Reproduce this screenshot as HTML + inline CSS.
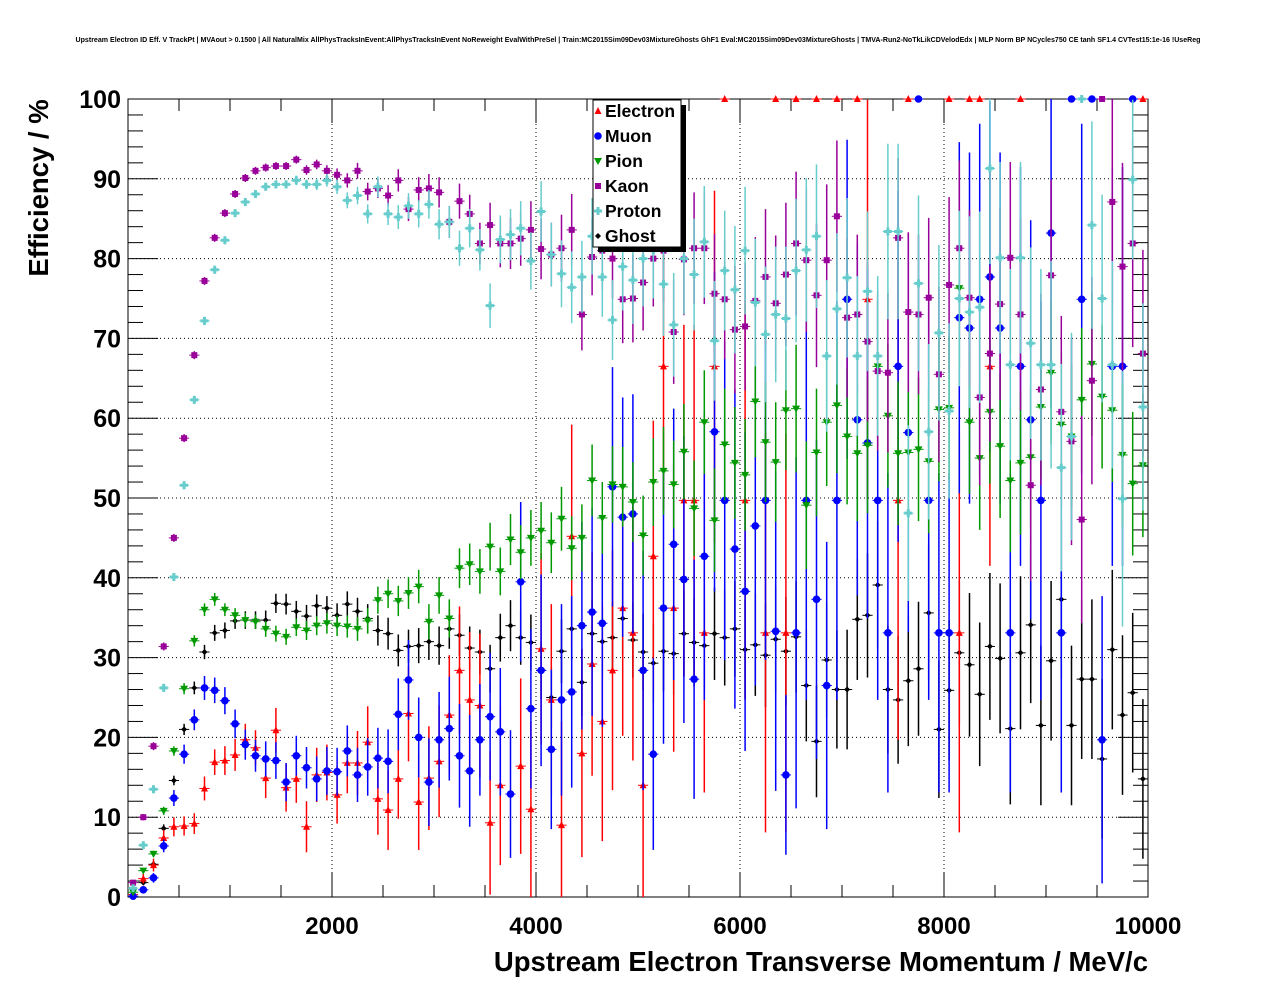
<!DOCTYPE html>
<html><head><meta charset="utf-8"><style>
html,body{margin:0;padding:0;background:#fff;}
svg{display:block;font-family:"Liberation Sans",Arial,sans-serif;}
</style></head><body>
<svg id="chart" width="1276" height="996" viewBox="0 0 1276 996" xmlns="http://www.w3.org/2000/svg">
<rect width="1276" height="996" fill="#fff"/>
<text x="638" y="42" font-size="7.05" font-weight="bold" text-anchor="middle">Upstream Electron ID Eff. V TrackPt | MVAout &gt; 0.1500 | All NaturalMix AllPhysTracksInEvent:AllPhysTracksInEvent NoReweight EvalWithPreSel | Train:MC2015Sim09Dev03MixtureGhosts GhF1 Eval:MC2015Sim09Dev03MixtureGhosts | TMVA-Run2-NoTkLikCDVelodEdx | MLP Norm BP NCycles750 CE tanh SF1.4 CVTest15:1e-16 !UseReg</text>
<g id="grid"></g>
<g id="axes"></g>
<g id="marks"></g>
<text transform="translate(48,188) rotate(-90)" font-size="27.5" font-weight="bold" text-anchor="middle">Efficiency / %</text>
<text x="1148" y="971" font-size="27.5" font-weight="bold" text-anchor="end">Upstream Electron Transverse Momentum / MeV/c</text>
<g id="legend"></g>
</svg>
<script>
// ---- data (efficiency %, 100 bins of 100 MeV) ----
const binWidth = 100;
const nBins = 100;
const xTicks = [2000, 4000, 6000, 8000, 10000];
const yTicks = [0, 10, 20, 30, 40, 50, 60, 70, 80, 90, 100];
const seriesNames = ["Electron", "Muon", "Pion", "Kaon", "Proton", "Ghost"];
const electron = [0.3,2.3,4,7.4,8.8,8.9,9.2,13.6,16.9,17.1,17.8,19.7,18.7,14.9,20.9,13.7,14.8,8.8,15.3,15.6,12.8,16.8,16.8,19.4,12.3,10.9,14.8,23,11.9,14.9,17,22.8,28.4,24.7,24,9.3,14,null,16.4,11,31.1,24.7,9,45.2,18,29.2,22,28.4,36.2,33.1,14,42.7,66.5,36.2,49.7,49.7,33.1,66.5,100,null,49.7,null,33.1,100,33.1,100,null,100,null,100,null,100,74.9,null,null,49.7,100,null,null,null,100,33.1,100,100,66.5,null,null,100,null,null,null,null,null,null,null,null,null,null,null,100];
const muon = [0.1,0.9,2.4,6.4,12.4,17.9,22.2,26.2,25.9,24.6,21.7,19.1,17.7,17.3,17.1,14.4,17.7,16.2,14.8,15.8,15.7,18.3,15.3,16.3,17.4,17,22.9,27.2,20,14.4,19.7,21.1,17.7,15.8,19.7,22.6,20.7,12.9,39.5,23.6,28.4,18.5,24.7,25.7,34,35.7,34.3,51.4,47.6,48,28.4,17.9,36.2,44.2,39.8,27.3,42.7,58.3,49.7,43.6,38.3,46.5,49.7,33.3,15.3,33.1,49.7,37.3,26.5,49.7,74.9,59.8,56.9,49.7,33.1,66.5,58.2,100,49.7,33.1,33.1,72.6,71.3,74.9,77.7,71.3,33.1,66.5,59.8,49.7,83.2,33.1,100,74.9,100,19.7,66.5,66.5,100,null];
const pion = [0.6,3.3,5.4,10.8,18.3,26.1,32.1,36,37.3,36,35.3,34.7,34.5,33.6,33,32.6,33.8,33.4,34,34.3,34,33.9,33.6,34.6,37.2,38,37.1,38.1,38.9,34.5,37.8,34.9,41.2,41.7,40.8,43.9,40.8,44.8,43.2,45,45.9,44.4,47.4,43.7,45,52.2,47.5,51.7,51.4,49.5,45.3,52,53.4,51.7,55.8,48.7,59.5,47.2,56.7,54.4,52.9,62.1,57,54.5,61,61.2,49.1,55.7,59.5,61.6,57.7,55.6,56.6,66.5,60.3,55.6,55.7,56.1,54.6,61.1,61.3,76.3,59.5,55,60.8,56.5,52.2,54.4,55.1,61.4,65.7,59.2,57.7,62.3,66.8,62.7,61,55.4,51.8,54.1];
const kaon = [1.8,10,18.9,31.4,45,57.5,67.9,77.2,82.6,85.7,88.1,90.1,91,91.4,91.6,91.6,92.4,91.1,91.8,91,90.5,89.8,91,88.4,88.8,87.9,89.8,86.2,88.6,88.8,88.3,84.6,87.2,85.6,81.9,84.2,81.9,81.9,82.5,83.6,81.2,80.5,81.3,83.6,73,80.2,81,80,74.9,75,77,80,81,70.8,79.9,81.3,81.3,75.6,74.9,71.1,71.5,74.7,77.7,74.4,78,81.9,79.8,75.4,79.8,85.3,72.6,73,69.6,65.9,65.7,82.6,73.3,73,75.1,65.5,76.7,81.3,75.1,62.6,68.1,74.3,80.1,73,51.6,63.6,77.9,60.8,57.1,47.3,64.7,100,87.1,79,81.9,68.1];
const proton = [1.1,6.5,13.5,26.2,40.1,51.6,62.3,72.2,78.6,82.3,85.7,87.1,88.1,89,89.3,89.3,89.8,89.3,89.3,89.8,89,87.3,87.9,85.6,89,85.6,85.2,86.6,85.6,86.8,84.3,84.6,81.3,83.8,81.1,74.1,82.4,83,83.8,79.7,85.9,80.5,78.1,76.4,77.7,82.8,77.7,72.3,79,77.3,80,81,76.8,71.7,80,78,82.1,69.7,78.5,76.1,81,74.5,70.5,73,72.5,78.5,81.1,82.8,67.8,73.7,77.6,67.8,75.9,67.8,83.4,83.4,48.1,76.9,58.3,70.7,60.9,75,73.3,73.9,91.3,80.1,66.7,80.1,69.4,66.7,66.7,53.8,57.7,100,84.2,75,66.7,49.9,89.9,61.4];
const ghost = [0,1.8,4.1,8.6,14.6,21,26.2,30.7,33.1,33.4,34.6,34.7,34.7,34.7,36.8,36.7,35.8,35.2,36.5,36.2,35.3,36.7,35.8,34.9,33.4,33,30.9,31.4,31.5,32,31.5,33.6,32.8,31.2,30.7,28.6,32.5,34,32.5,31.9,28.4,25,30.8,33.6,26.9,33,32,32.5,34.9,32.2,30.7,29.3,30.8,30.5,33,31.9,31.5,33,32.5,33.6,31,31.6,30.3,32.3,30.8,32.6,26.5,19.5,29.7,26,26,34.8,35.3,39.1,26,24.7,27.1,28.6,35.6,21,25.9,30.6,29.1,25.4,31.4,29.9,21.1,30.6,34.1,21.5,29.6,37.3,21.5,27.3,27.3,17.3,31,22.8,25.6,14.8];
// approximate error bars (%)
const electronErr = [0.3,0.6,0.8,1,1.2,1.2,1.3,1.5,1.6,1.8,2,2,2.2,2.5,2.8,3,3,3.2,3.4,3.5,3.6,3.8,4,4.5,4.5,5,5,6,6,6.5,7,7.5,8,8.5,9,9,10,10,11,11,12,12,13,14,13,14,15,15,16,16,16,17,18,18,22,22,20,22,0,0,25,0,25,0,25,0,0,0,0,0,0,0,25,0,0,30,0,0,0,0,0,25,0,0,25,0,0,0,0,0,0,0,0,0,0,0,0,0,0,0];
const muonErr = [0.2,0.4,0.6,0.8,1,1.2,1.3,1.5,1.6,1.7,1.8,1.9,2,2.2,2.3,2.4,2.5,2.6,2.8,3,3,3.2,3.4,3.6,3.8,4,4.5,5,5,5.5,6,6.5,6.5,7,7,8,8,8,10,10,12,10,12,12,13,13,13,15,15,15,15,12,17,17,18,15,18,20,20,20,20,20,20,20,10,22,25,20,18,25,20,22,22,25,20,22,25,0,25,20,20,22,22,22,22,22,20,25,25,25,22,20,0,22,0,18,25,25,0,0];
const pionErr = [0.2,0.3,0.4,0.5,0.6,0.7,0.7,0.8,0.8,0.8,0.9,0.9,0.9,1,1,1,1.1,1.2,1.2,1.3,1.3,1.4,1.5,1.6,1.7,1.8,1.9,2,2.1,2.2,2.3,2.4,2.5,2.6,2.8,3,3,3.2,3.4,3.5,3.6,3.8,4,4,4.2,4.5,4.5,4.8,5,5,5,5.5,5.5,5.5,6,6,6.5,6.5,7,7,7,7,7.5,7.5,7.5,8,8,8,8,8.5,8.5,8.5,8.5,9,9,9,9,9,9,9,9,10,9,9,9,9,9,9,9,9,9,9,9,9,9,9,9,9,9,9];
const kaonErr = [0.3,0.4,0.5,0.5,0.5,0.5,0.5,0.5,0.5,0.5,0.5,0.5,0.5,0.5,0.5,0.5,0.5,0.6,0.6,0.7,0.8,0.9,1,1.1,1.2,1.3,1.4,1.5,1.6,1.8,1.9,2,2.2,2.4,2.6,2.8,3,3.2,3.4,3.6,3.8,4,4.2,4.5,4.5,4.8,5,5,5.5,5.5,6,6,6.5,6.5,7,7,7,7.5,7.5,8,8,8,8.5,8.5,9,9,9,9,9.5,9.5,10,10,10,10,10,10,10,10,10,11,11,11,11,11,11,12,12,12,12,12,12,12,13,13,13,0,13,13,13,13];
const protonErr = [0.3,0.4,0.5,0.5,0.5,0.5,0.5,0.5,0.5,0.5,0.5,0.5,0.5,0.5,0.5,0.5,0.6,0.6,0.7,0.8,0.9,1,1.1,1.2,1.3,1.4,1.5,1.6,1.7,1.8,1.9,2,2.2,2.4,2.6,2.8,3,3.2,3.4,3.6,3.8,4,4.2,4.5,4.5,4.8,5,5,5.5,5.5,6,6,6.5,6.5,7,7,7,7.5,7.5,8,8,8,8.5,8.5,9,9,9,9,9.5,9.5,10,10,10,10,11,11,11,11,11,11,11,11,12,12,12,12,12,12,12,12,13,13,13,0,13,13,13,16,10,13];
const ghostErr = [0.2,0.3,0.4,0.5,0.6,0.7,0.8,0.9,1,1,1,1.1,1.1,1.2,1.2,1.3,1.3,1.4,1.4,1.5,1.5,1.6,1.7,1.8,1.9,2,2,2.1,2.2,2.3,2.4,2.5,2.6,2.7,2.8,3,3,3.2,3.4,3.5,3.6,3.8,4,4,4.2,4.3,4.4,4.5,4.6,4.7,4.8,5,5,5.2,5.4,5.5,5.6,5.8,6,6,6.2,6.4,6.5,6.6,6.8,7,7,7,7.2,7.4,7.5,7.6,7.8,8,8,8,8.2,8.4,8.5,8.6,8.8,9,9,9,9.2,9.4,9.5,9.6,9.8,10,10,10,10,10,10,10,10,10,10,10];

// ---- layout ----
const X0 = 128, X1 = 1148, Y0 = 897, Y1 = 99;
const xMax = 10000, yMax = 100;
function xs(v){ return X0 + v/xMax*(X1-X0); }
function ys(v){ return Y0 - v/yMax*(Y0-Y1); }
const NS = "http://www.w3.org/2000/svg";
function mk(tag, attrs, parent){
  const e = document.createElementNS(NS, tag);
  for (const k in attrs) e.setAttribute(k, attrs[k]);
  parent.appendChild(e); return e;
}
const grid = document.getElementById('grid');
const axes = document.getElementById('axes');
const marks = document.getElementById('marks');
const legend = document.getElementById('legend');

yTicks.forEach(t => {
  if (t===0 || t===100) return;
  const l = mk('line', {x1:X0, x2:X1, y1:ys(t), y2:ys(t), stroke:'#000', 'stroke-width':1, 'stroke-dasharray':'1,3'}, grid);
  
  
});
xTicks.forEach(t => {
  if (t===10000) return;
  const l = mk('line', {x1:xs(t), x2:xs(t), y1:Y0, y2:Y1, stroke:'#000', 'stroke-width':1, 'stroke-dasharray':'1,3'}, grid);
  
  
});

const fr = mk('rect', {x:X0, y:Y1, width:X1-X0, height:Y0-Y1, fill:'none', stroke:'#000', 'stroke-width':1}, axes);



for (let v=0; v<=100; v+=2){
  const len = (v%10===0) ? 30 : 15;
  mk('line', {x1:X0, x2:X0+len, y1:ys(v), y2:ys(v), stroke:'#000'}, axes);
  mk('line', {x1:X1, x2:X1-len, y1:ys(v), y2:ys(v), stroke:'#000'}, axes);
}
yTicks.forEach(t => {
  const tx = mk('text', {x:121, y:ys(t)+9, 'font-size':25, 'font-weight':'bold', 'text-anchor':'end'}, axes);
  tx.textContent = t;
  
  
});
for (let v=500; v<=10000; v+=500){
  const len = (v%2000===0) ? 24 : 12;
  mk('line', {x1:xs(v), x2:xs(v), y1:Y0, y2:Y0-len, stroke:'#000'}, axes);
  mk('line', {x1:xs(v), x2:xs(v), y1:Y1, y2:Y1+len, stroke:'#000'}, axes);
}
xTicks.forEach(t => {
  const tx = mk('text', {x:xs(t), y:934, 'font-size':24, 'font-weight':'bold', 'text-anchor':'middle'}, axes);
  tx.textContent = t;
  
  
});

const styles = {
  Electron:{c:'#ff0000', m:'tri'},
  Muon:{c:'#0000ff', m:'circ'},
  Pion:{c:'#009900', m:'tridown'},
  Kaon:{c:'#990099', m:'sq'},
  Proton:{c:'#66cccc', m:'plus'},
  Ghost:{c:'#000000', m:'diam'}
};
function marker(kind, x, y, c, parent){
  let e;
  if (kind==='tri') e = mk('polygon', {points:`${x},${y-4} ${x-3.5},${y+3} ${x+3.5},${y+3}`, fill:c}, parent);
  else if (kind==='tridown') e = mk('polygon', {points:`${x},${y+4} ${x-4},${y-3} ${x+4},${y-3}`, fill:c}, parent);
  else if (kind==='circ') e = mk('circle', {cx:x, cy:y, r:3.8, fill:c}, parent);
  else if (kind==='sq') e = mk('rect', {x:x-3, y:y-3, width:6, height:6, fill:c}, parent);
  else if (kind==='plus') e = mk('path', {d:`M${x-4},${y-1.5}h8v3h-8z M${x-1.5},${y-4}h3v8h-3z`, fill:c}, parent);
  else e = mk('polygon', {points:`${x},${y-3} ${x+3},${y} ${x},${y+3} ${x-3},${y}`, fill:c}, parent);
  return e;
}
const seriesData = {Electron:[electron,electronErr], Muon:[muon,muonErr], Pion:[pion,pionErr], Kaon:[kaon,kaonErr], Proton:[proton,protonErr], Ghost:[ghost,ghostErr]};
const drawOrder = ["Ghost","Electron","Muon","Pion","Kaon","Proton"];
drawOrder.forEach(name => {
  const st = styles[name];
  const vals = seriesData[name][0], errs = seriesData[name][1];
  const g = mk('g', {}, marks);
  
  
  vals.forEach((v, i) => {
    if (v === null || v === undefined) return;
    const cx = xs((i+0.5)*binWidth), cy = ys(v);
    const e = errs[i] || 0;
    const yt = Math.max(Y1, ys(Math.min(100, v+e))), yb = Math.min(Y0, ys(Math.max(0, v-e)));
    if (e > 0) mk('line', {x1:cx, x2:cx, y1:yt, y2:yb, stroke:st.c, 'stroke-width':1.5}, g);
    mk('line', {x1:xs(i*binWidth), x2:xs((i+1)*binWidth), y1:cy, y2:cy, stroke:st.c, 'stroke-width':1}, g);
    const m = marker(st.m, cx, cy, st.c, g);
    
    
  });
});

const lb = mk('rect', {x:598, y:105, width:88, height:147, fill:'#000'}, legend);


const lbox = mk('rect', {x:593, y:100, width:88, height:147, fill:'#fff', stroke:'#000'}, legend);


seriesNames.forEach((name, i) => {
  const y = 111 + i*25;
  const st = styles[name];
  const g = mk('g', {}, legend);
  
  
  marker(st.m, 598, y, st.c, g);
  const t = mk('text', {x:605, y:y+6, 'font-size':17.5, 'font-weight':'bold'}, g);
  t.textContent = name;
});
</script>
</body></html>
